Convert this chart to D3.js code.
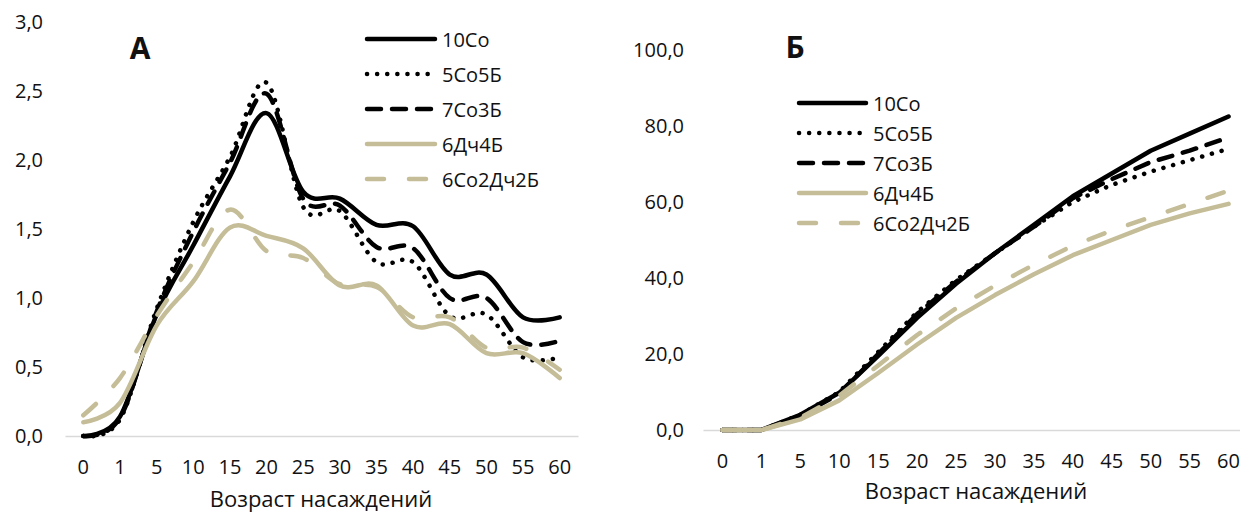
<!DOCTYPE html>
<html>
<head>
<meta charset="utf-8">
<script src="https://cdn.jsdelivr.net/npm/d3@7"></script>
<style>
  body { margin: 0; background: #fff; }
  svg text { font-family: "Open Sans", sans-serif; fill: #111; }
</style>
</head>
<body>
<svg id="chart" width="1240" height="513"></svg>
<script>
// categories (age of stands)
const ages = ["0", "1", "5", "10", "15", "20", "25", "30", "35", "40", "45", "50", "55", "60"];
const seriesNames = ["10Со", "5Со5Б", "7Со3Б", "6Дч4Б", "6Со2Дч2Б"];

// panel А
const a10So     = [0.00, 0.14, 0.88, 1.38, 1.88, 2.34, 1.77, 1.72, 1.53, 1.52, 1.17, 1.17, 0.86, 0.86];
const a5So5B    = [0.00, 0.12, 0.92, 1.55, 2.02, 2.56, 1.66, 1.63, 1.26, 1.26, 0.87, 0.88, 0.57, 0.57];
const a7So3B    = [0.00, 0.13, 0.90, 1.48, 1.98, 2.48, 1.72, 1.67, 1.37, 1.36, 1.00, 1.00, 0.68, 0.69];
const a6Dch4B   = [0.10, 0.24, 0.80, 1.12, 1.51, 1.45, 1.36, 1.09, 1.09, 0.80, 0.81, 0.60, 0.60, 0.42];
const a6So2Dch2B= [0.15, 0.42, 0.87, 1.26, 1.64, 1.34, 1.29, 1.10, 1.08, 0.86, 0.86, 0.64, 0.64, 0.48];
const aTicks = [0, 0.5, 1, 1.5, 2, 2.5, 3];

// panel Б
const b10So     = [0, 0, 4.0, 9.8, 19.5, 29.5, 38.5, 46.5, 54.0, 61.5, 67.5, 73.5, 78.0, 82.5];
const b5So5B    = [0, 0, 4.0, 10.0, 20.5, 31.0, 39.5, 46.5, 53.5, 60.0, 64.5, 68.0, 71.0, 74.0];
const b7So3B    = [0, 0, 3.8, 9.5, 20.0, 30.5, 39.0, 46.5, 53.5, 61.0, 66.0, 70.5, 73.5, 77.0];
const b6Dch4B   = [0, 0, 2.8, 7.8, 15.0, 22.5, 29.5, 35.5, 41.0, 46.0, 50.0, 54.0, 57.0, 59.5];
const b6So2Dch2B= [0, 0, 3.2, 9.0, 17.0, 25.0, 32.0, 38.0, 43.5, 48.5, 52.5, 56.0, 59.5, 63.0];
const bTicks = [0, 20, 40, 60, 80, 100];

const tan = "#C4BD97";
// line look for each series, in drawing order
const styles = [
  { color: "#000", dash: null },
  { color: "#000", dash: "0.1,10" },
  { color: "#000", dash: "14,11" },
  { color: tan, dash: null },
  { color: tan, dash: "17,25" }
];

const svg = d3.select("#chart");
const fmt = v => d3.format(".1f")(v).replace(".", ",");

function panel(opts) {
  const g = svg.append("g");

  const x = d3.scaleBand().domain(ages).range(opts.xRange);
  const y = d3.scaleLinear().domain(opts.yDomain).range(opts.yRange);

  // y labels, no axis line
  g.append("g")
      .attr("transform", "translate(" + opts.yLabelX + ",0)")
      .call(d3.axisLeft(y).tickValues(opts.ticks).tickFormat(fmt).tickSize(0).tickPadding(0))
      .call(a => a.select(".domain").remove())
      .selectAll("text").style("font-size", "20px");

  // x axis: grey baseline and category labels
  const xa = g.append("g")
      .attr("transform", "translate(0," + opts.yRange[0] + ")")
      .call(d3.axisBottom(x).tickSize(0).tickPadding(24));
  xa.select(".domain").attr("stroke", "#D9D9D9").attr("stroke-width", 1.6);
  xa.selectAll("text").style("font-size", "20px");

  g.append("text")
      .attr("x", opts.xTitle[0]).attr("y", opts.xTitle[1])
      .attr("text-anchor", "middle")
      .style("font-size", "22px")
      .text("Возраст насаждений");

  g.append("text")
      .attr("x", opts.title[0]).attr("y", opts.title[1])
      .attr("text-anchor", "middle")
      .attr("dominant-baseline", "central")
      .style("font-size", "30px").style("font-weight", "bold")
      .text(opts.label);

  const line = d3.line()
      .x((d, i) => x(ages[i]) + x.bandwidth() / 2)
      .y(d => y(d))
      .curve(opts.curve);

  opts.data.forEach((vals, k) => {
    g.append("path")
        .datum(vals)
        .attr("d", line)
        .attr("fill", "none")
        .attr("stroke", styles[k].color)
        .attr("stroke-width", 4.5)
        .attr("stroke-linecap", "round")
        .attr("stroke-linejoin", "round")
        .attr("stroke-dasharray", styles[k].dash);
  });

  // legend
  const lg = g.append("g");
  seriesNames.forEach((name, k) => {
    const ly = opts.legend.y0 + k * opts.legend.dy;
    lg.append("line")
        .attr("x1", opts.legend.x1).attr("x2", opts.legend.x2)
        .attr("y1", ly).attr("y2", ly)
        .attr("stroke", styles[k].color)
        .attr("stroke-width", 4.5)
        .attr("stroke-linecap", "round")
        .attr("stroke-dasharray", styles[k].dash);
    lg.append("text")
        .attr("x", opts.legend.x2 + 7).attr("y", ly)
        .attr("dominant-baseline", "central")
        .style("font-size", "20px")
        .text(name);
  });
}

panel({
  label: "А",
  xRange: [65, 578], yDomain: [0, 3], yRange: [436, 22],
  ticks: aTicks, yLabelX: 43,
  xTitle: [321, 507], title: [140, 47],
  curve: d3.curveCatmullRom.alpha(0),
  data: [a10So, a5So5B, a7So3B, a6Dch4B, a6So2Dch2B],
  legend: { x1: 367, x2: 435, y0: 39, dy: 35 }
});

panel({
  label: "Б",
  xRange: [703, 1248], yDomain: [0, 100], yRange: [430, 50],
  ticks: bTicks, yLabelX: 684,
  xTitle: [976, 499], title: [795, 46],
  curve: d3.curveLinear,
  data: [b10So, b5So5B, b7So3B, b6Dch4B, b6So2Dch2B],
  legend: { x1: 799, x2: 866, y0: 103, dy: 30 }
});
</script>
</body>
</html>
